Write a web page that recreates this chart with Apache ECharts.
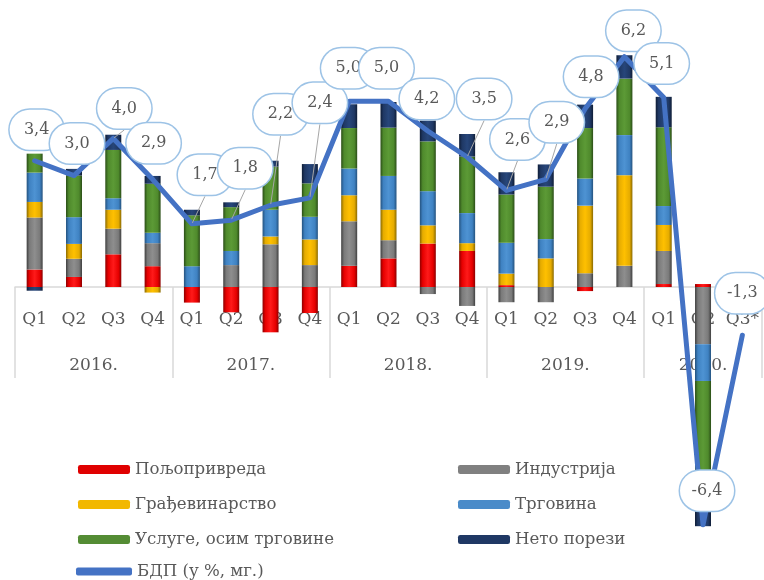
<!DOCTYPE html>
<html>
<head>
<meta charset="utf-8">
<script src="https://cdn.jsdelivr.net/npm/echarts@6/dist/echarts.min.js"></script>
<style>
html, body { margin: 0; padding: 0; background: #fff; }
#chart { width: 764px; height: 580px; }
</style>
</head>
<body>
<div id="chart"></div>
<script>
// категорије
var quarters = ['Q1', 'Q2', 'Q3', 'Q4', 'Q1', 'Q2', 'Q3', 'Q4', 'Q1', 'Q2', 'Q3', 'Q4',
    'Q1', 'Q2', 'Q3', 'Q4', 'Q1', 'Q2', 'Q3*'];
var years = ['2016.', '2017.', '2018.', '2019.', '2020.'];
var quartersPerYear = [4, 4, 4, 4, 3];

// доприноси расту (п.п.)
var agriculture = [0.47, 0.27, 0.88, 0.56, -0.42, -0.68, -1.22, -0.70, 0.57, 0.77, 1.17, 0.97, 0.05, 0, -0.11, 0, 0.08, 0.08, null];
var industry = [1.40, 0.49, 0.69, 0.62, 0, 0.59, 1.15, 0.59, 1.20, 0.49, -0.19, -0.51, -0.41, -0.41, 0.37, 0.57, 0.89, -1.54, null];
var construction = [0.42, 0.40, 0.51, -0.15, 0, 0, 0.21, 0.69, 0.70, 0.82, 0.49, 0.21, 0.31, 0.77, 1.82, 2.44, 0.70, 0, null];
var trade = [0.79, 0.72, 0.31, 0.28, 0.56, 0.38, 0.72, 0.61, 0.72, 0.91, 0.92, 0.81, 0.83, 0.52, 0.73, 1.08, 0.51, -0.99, null];
var services = [0.51, 1.12, 1.30, 1.32, 1.37, 1.18, 1.16, 0.90, 1.09, 1.30, 1.34, 1.52, 1.30, 1.41, 1.36, 1.52, 2.12, -3.24, null];
var netTaxes = [-0.10, 0.18, 0.41, 0.21, 0.15, 0.13, 0.16, 0.52, 0.64, 0.69, 0.56, 0.61, 0.60, 0.60, 0.63, 0.63, 0.82, -0.67, null];
var gdp = [3.4, 3.0, 4.0, 2.9, 1.7, 1.8, 2.2, 2.4, 5.0, 5.0, 4.2, 3.5, 2.6, 2.9, 4.8, 6.2, 5.1, -6.4, -1.3];

// положај облачића у односу на тачку
var calloutOffset = [[2, -31], [3, -32], [11, -30], [1, -36], [13, -49], [14, -52], [10, -91], [10, -95],
    [-1, -33], [-2, -33], [-1, -32], [17, -58], [11, -51], [11, -57], [6, -32], [9, -26], [-2, -34], [4, -34], [0, -42]];
var leaderLines = [2, 4, 5, 6, 7, 11, 12, 13];

var font = 'DejaVu Serif';
var textColor = '#595959';

function bevel(dark, base, light) {
    return new echarts.graphic.LinearGradient(0, 0, 1, 0, [
        { offset: 0, color: dark },
        { offset: 0.18, color: base },
        { offset: 0.5, color: light },
        { offset: 0.82, color: base },
        { offset: 1, color: dark }
    ]);
}

var barDefs = [
    { name: 'Пољопривреда', data: agriculture, plain: '#e00000', fill: bevel('#8c0000', '#e60000', '#ff1a1a') },
    { name: 'Индустрија', data: industry, plain: '#808080', fill: bevel('#3f3f3f', '#7a7a7a', '#8e8e8e') },
    { name: 'Грађевинарство', data: construction, plain: '#f2b800', fill: bevel('#8a6a00', '#e6ac00', '#ffc000') },
    { name: 'Трговина', data: trade, plain: '#4a8bc9', fill: bevel('#24527e', '#3f82c2', '#4e93d3') },
    { name: 'Услуге, осим трговине', data: services, plain: '#548c34', fill: bevel('#2a4d17', '#4f8a2c', '#5c9a36') },
    { name: 'Нето порези', data: netTaxes, plain: '#1f3864', fill: bevel('#0f1d36', '#1f3864', '#27467a') }
];
var gdpName = 'БДП (у %, мг.)';

// ознаке година на средини сваке године
var yearSlots = [];
var yearAt = {};
for (var k = 0; k <= quarters.length * 2; k++) yearSlots.push(String(k));
var start = 0;
years.forEach(function (y, i) {
    yearAt[2 * start + quartersPerYear[i]] = y;
    start += quartersPerYear[i];
});

// почеци година (за вертикалне граничнике)
var yearStarts = {};
var acc = 0;
quartersPerYear.forEach(function (n) { yearStarts[acc] = true; acc += n; });

var series = barDefs.map(function (d) {
    return {
        name: d.name,
        type: 'bar',
        stack: 'total',
        barWidth: 16,
        data: d.data,
        itemStyle: { color: d.fill }
    };
});

series.push({
    name: gdpName,
    type: 'line',
    data: gdp.map(function (v, i) {
        return { value: v, labelLine: { show: leaderLines.indexOf(i) >= 0 } };
    }),
    symbol: 'circle',
    symbolSize: 2,
    itemStyle: { color: '#4472c4' },
    lineStyle: { color: '#4472c4', width: 5, cap: 'round', join: 'round' },
    z: 5,
    label: {
        show: true,
        position: 'inside',
        formatter: function (p) { return p.value.toFixed(1).replace('.', ','); },
        color: textColor,
        fontFamily: font,
        fontSize: 16,
        backgroundColor: '#fff',
        borderColor: '#9dc3e6',
        borderWidth: 1.5,
        borderRadius: 20,
        width: 54,
        height: 40,
        lineHeight: 40,
        align: 'center',
        verticalAlign: 'middle',
        padding: 0
    },
    labelLine: { show: false, lineStyle: { color: '#a6a6a6', width: 1 } },
    labelLayout: function (p) {
        var o = calloutOffset[p.dataIndex];
        return { dx: o[0], dy: o[1] };
    }
});

var legendText = { fontFamily: font, fontSize: 16.6, color: textColor };
var legendBase = {
    orient: 'vertical', itemWidth: 52, itemHeight: 9, itemGap: 18,
    textStyle: legendText, selectedMode: false, padding: 0
};

var option = {
    animation: false,
    backgroundColor: '#fff',
    grid: { left: 15, right: 2, top: 27, bottom: 33, outerBoundsMode: 'none' },
    legend: [
        Object.assign({}, legendBase, {
            left: 78, top: 461,
            data: [
                { name: barDefs[0].name, itemStyle: { color: barDefs[0].plain } },
                { name: barDefs[2].name, itemStyle: { color: barDefs[2].plain } },
                { name: barDefs[4].name, itemStyle: { color: barDefs[4].plain } }
            ]
        }),
        Object.assign({}, legendBase, {
            left: 458, top: 461,
            data: [
                { name: barDefs[1].name, itemStyle: { color: barDefs[1].plain } },
                { name: barDefs[3].name, itemStyle: { color: barDefs[3].plain } },
                { name: barDefs[5].name, itemStyle: { color: barDefs[5].plain } }
            ]
        }),
        Object.assign({}, legendBase, {
            left: 76, top: 563, itemWidth: 56, itemHeight: 8,
            data: [{ name: gdpName, icon: 'roundRect', itemStyle: { color: '#4472c4' } }]
        })
    ],
    xAxis: [
        {
            type: 'category',
            position: 'bottom',
            offset: -260,
            data: quarters,
            axisLine: { onZero: false, lineStyle: { color: '#d9d9d9', width: 1.5 } },
            axisTick: {
                show: true, length: 91,
                interval: function (idx) { return !!yearStarts[idx]; },
                lineStyle: { color: '#d9d9d9', width: 1.5 }
            },
            axisLabel: { interval: 0, margin: 24, fontFamily: font, fontSize: 17, color: textColor },
            splitLine: { show: false }
        },
        {
            type: 'category',
            position: 'bottom',
            offset: -260,
            boundaryGap: false,
            data: yearSlots,
            axisLine: { show: false, onZero: false },
            axisTick: { show: false },
            axisLabel: {
                interval: 0, margin: 70, fontFamily: font, fontSize: 17, color: textColor,
                formatter: function (v, idx) { return yearAt[idx] || ''; }
            },
            splitLine: { show: false }
        }
    ],
    yAxis: { type: 'value', min: -7, max: 7, show: false, splitLine: { show: false } },
    series: series
};

var chart = echarts.init(document.getElementById('chart'));
chart.setOption(option);
</script>
</body>
</html>
